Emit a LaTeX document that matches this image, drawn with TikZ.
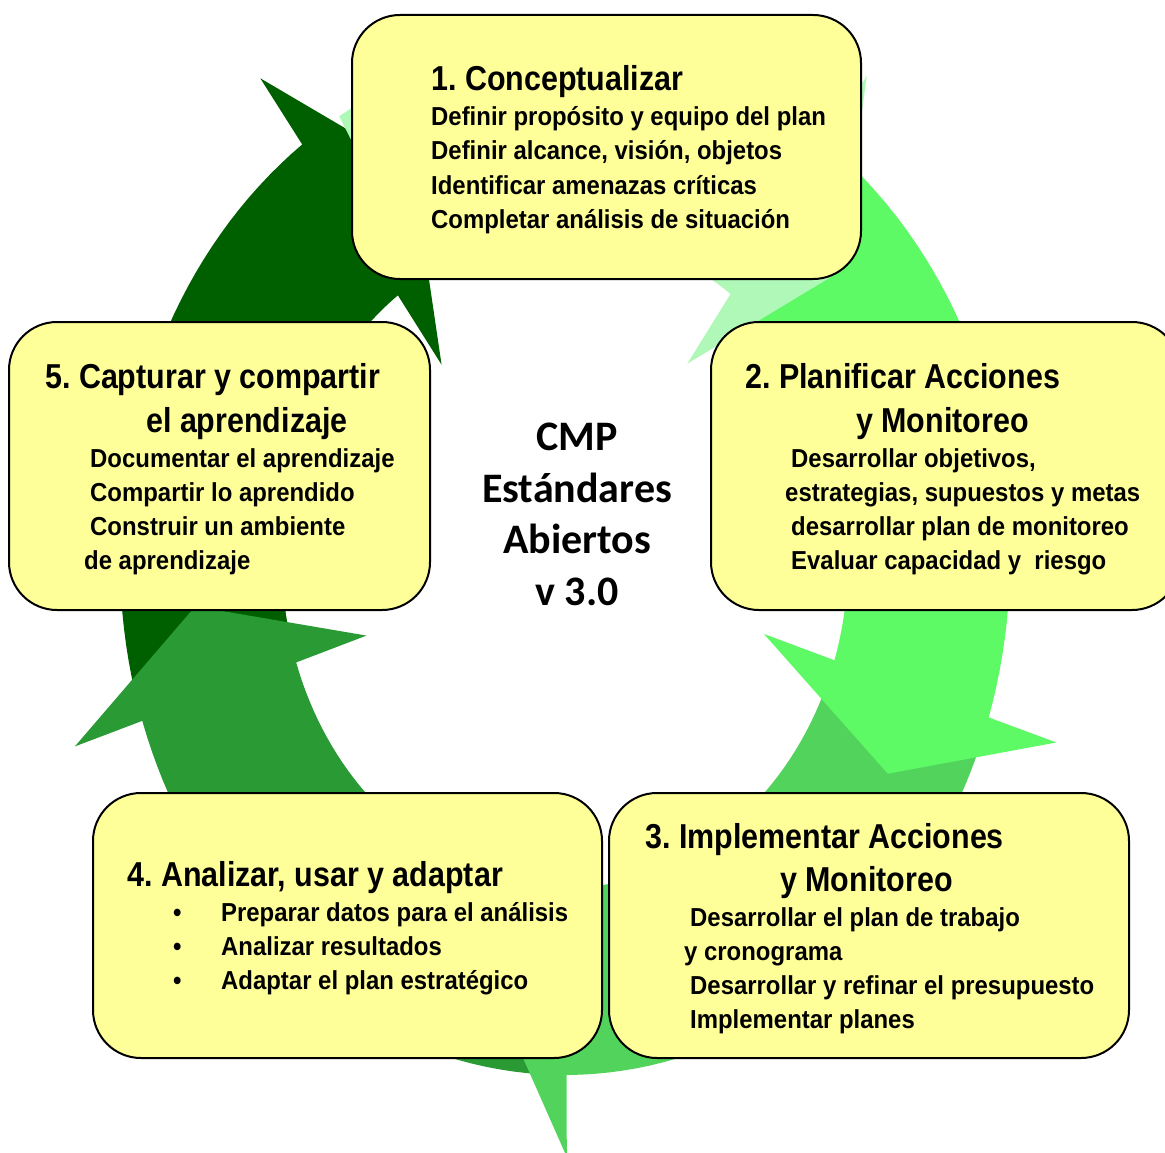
\documentclass[tikz,border=0pt]{standalone}
\usepackage{fontspec}
\newfontfamily\titlefont[FakeStretch=0.88]{Liberation Sans}
\newfontfamily\bodyfont[FakeStretch=0.92]{Liberation Sans}
\newfontfamily\cmpfont{Carlito}
\definecolor{arrowdark}{RGB}{0,96,0}
\definecolor{arrowmid}{RGB}{42,154,52}
\definecolor{arrowlow}{RGB}{82,212,92}
\definecolor{arrowbright}{RGB}{94,250,102}
\definecolor{arrowpale}{RGB}{176,248,184}
\definecolor{boxyellow}{RGB}{255,255,153}
\frenchspacing

\begin{document}
\begin{tikzpicture}[x=1pt, y=-1pt,
    stepbox/.style={draw, line width=2pt, fill=boxyellow, rounded corners=48pt, inner sep=0pt},
    title/.style={anchor=base west, inner sep=0pt, font=\titlefont\bfseries\fontsize{34.6}{43}\selectfont},
    txt/.style={anchor=base west, inner sep=0pt, font=\bodyfont\bfseries\fontsize{26}{34}\selectfont},
    cmp/.style={anchor=base, inner sep=0pt, font=\cmpfont\bfseries\fontsize{42}{52}\selectfont}]
                \path[use as bounding box, fill=white] (0,0) rectangle (1165,1153);
                % cycle of arrows: colour / tail angle / head angle
                \foreach \col/\ta/\tb in {arrowdark/163.3/233.8, arrowmid/91.3/161.8,
                    arrowlow/19.3/89.8, arrowbright/-52.7/17.8, arrowpale/239.5/305.8}
                    \fill[\col] plot[domain=\ta:\tb, samples=40] ({565+445*cos(\x)}, {560+515*sin(\x)})
                        -- ({565+516*cos(\tb)}, {560+597*sin(\tb)})
                        -- ({565+372*cos(\tb+12)}, {560+430*sin(\tb+12)})
                        -- ({565+209*cos(\tb)}, {560+242*sin(\tb)})
                        -- plot[domain=\tb:\ta, samples=40] ({565+283*cos(\x)}, {560+328*sin(\x)})
                        -- cycle;
                % boxes
                \node[stepbox, minimum width=509pt, minimum height=264pt] (box1) at (606.5,147) {};
                \node[stepbox, minimum width=469pt, minimum height=288pt] (box2) at (945.5,466) {};
                \node[stepbox, minimum width=520pt, minimum height=265pt] (box3) at (869,925.5) {};
                \node[stepbox, minimum width=509pt, minimum height=265pt] (box4) at (347.5,925.5) {};
                \node[stepbox, minimum width=421pt, minimum height=288pt] (box5) at (219.5,466) {};
                % 1
                \node[title] (t1) at (431,91) {1. Conceptualizar};
                \node[txt] (l11) at (431,126) {Definir propósito y equipo del plan};
                \node[txt] (l12) at (431,160) {Definir alcance, visión, objetos};
                \node[txt] (l13) at (431,194) {Identificar amenazas críticas};
                \node[txt] (l14) at (431,228) {Completar análisis de situación};
                % 2
                \node[title] (t2a) at (745,388) {2. Planificar Acciones};
                \node[title] (t2b) at (856,432) {y Monitoreo};
                \node[txt] (l21) at (791,467) {Desarrollar objetivos,};
                \node[txt] (l22) at (785,501) {estrategias, supuestos y metas};
                \node[txt] (l23) at (791,535) {desarrollar plan de monitoreo};
                \node[txt] (l24) at (791,569) {Evaluar capacidad y~ riesgo};
                % 3
                \node[title] (t3a) at (645,848) {3. Implementar Acciones};
                \node[title] (t3b) at (780,891) {y Monitoreo};
                \node[txt] (l31) at (690,926.5) {Desarrollar el plan de trabajo};
                \node[txt] (l32) at (684,960.5) {y cronograma};
                \node[txt] (l33) at (690,994.5) {Desarrollar y refinar el presupuesto};
                \node[txt] (l34) at (690,1028.5) {Implementar planes};
                % 4
                \node[title] (t4) at (127,886) {4. Analizar, usar y adaptar};
                \node[txt] (l41) at (173,921.5) {\makebox[48pt][l]{•}Preparar datos para el análisis};
                \node[txt] (l42) at (173,955.5) {\makebox[48pt][l]{•}Analizar resultados};
                \node[txt] (l43) at (173,989.5) {\makebox[48pt][l]{•}Adaptar el plan estratégico};
                % 5
                \node[title] (t5a) at (45,388) {5. Capturar y compartir};
                \node[title] (t5b) at (146,432) {el aprendizaje};
                \node[txt] (l51) at (90,467) {Documentar el aprendizaje};
                \node[txt] (l52) at (90,501) {Compartir lo aprendido};
                \node[txt] (l53) at (90,535) {Construir un ambiente};
                \node[txt] (l54) at (84,569) {de aprendizaje};
                % centre
                \node[cmp] (c1) at (577,450) {CMP};
                \node[cmp] (c2) at (577,502) {Estándares};
                \node[cmp] (c3) at (577,553) {Abiertos};
                \node[cmp] (c4) at (577,605) {v 3.0};
            \end{tikzpicture}
\end{document}
